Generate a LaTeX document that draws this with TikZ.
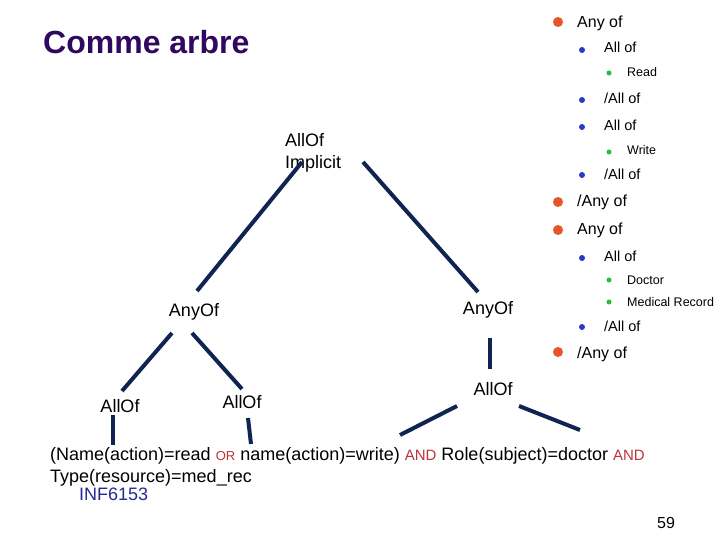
\documentclass[tikz,border=0pt]{standalone}
\usepackage{fontspec}
\setmainfont{Liberation Sans}
\definecolor{navy}{RGB}{16,36,82}
\definecolor{ttl}{RGB}{48,8,96}
\definecolor{redk}{RGB}{190,50,60}
\definecolor{bluet}{RGB}{40,40,150}
\definecolor{borange}{RGB}{232,84,42}
\definecolor{bblue}{RGB}{40,56,200}
\definecolor{bgreen}{RGB}{44,186,58}
\begin{document}
\begin{tikzpicture}[x=1pt,y=-1pt,
  lbl/.style={inner sep=0pt,font=\fontsize{18}{22}\selectfont},
  edge/.style={draw=navy,line width=4pt},
  txt/.style={inner sep=0pt,anchor=base west,font=\fontsize{18}{22}\selectfont},
  l1/.style={inner sep=0pt,anchor=base west,font=\fontsize{16}{19}\selectfont},
  l2/.style={inner sep=0pt,anchor=base west,font=\fontsize{14.5}{17}\selectfont},
  l3/.style={inner sep=0pt,anchor=base west,font=\fontsize{12.5}{15}\selectfont},
  d1/.style={circle,fill=borange,inner sep=0pt,minimum size=10pt},
  d2/.style={circle,fill=bblue,inner sep=0pt,minimum size=6pt},
  d3/.style={circle,fill=bgreen,inner sep=0pt,minimum size=5pt}]
\useasboundingbox (0,0) rectangle (720,540);
\fill[white] (0,0) rectangle (720,540);
% title
\node[inner sep=0pt,anchor=base west,text=ttl,font=\fontsize{32}{36}\selectfont\bfseries] (title) at (43,54) {Comme arbre};
% edge end points
\coordinate (e1a) at (197,291); \coordinate (e1b) at (302,162);
\coordinate (e2a) at (363,162); \coordinate (e2b) at (478,292);
\coordinate (e3a) at (172,333); \coordinate (e3b) at (122,391);
\coordinate (e4a) at (192,333); \coordinate (e4b) at (242,389);
\coordinate (e5a) at (490,338); \coordinate (e5b) at (490,369);
\coordinate (e6a) at (457,406); \coordinate (e6b) at (400,435);
\coordinate (e7a) at (519,406); \coordinate (e7b) at (580,430);
\coordinate (e8a) at (113,415); \coordinate (e8b) at (113,445);
\coordinate (e9a) at (248,418); \coordinate (e9b) at (251,444);
% nodes
\node[lbl,anchor=base west,align=left] (root) at (285,169) {AllOf\\Implicit};
\node[lbl] (anyL) at (194,312) {AnyOf};
\node[lbl] (anyR) at (488,310) {AnyOf};
\node[lbl] (allA) at (120,406) {AllOf};
\node[lbl] (allB) at (242,402) {AllOf};
\node[lbl] (allC) at (493,389) {AllOf};
% edges
\draw[edge] (e1a) -- (e1b);
\draw[edge] (e2a) -- (e2b);
\draw[edge] (e3a) -- (e3b);
\draw[edge] (e4a) -- (e4b);
\draw[edge] (e5a) -- (e5b);
\draw[edge] (e6a) -- (e6b);
\draw[edge] (e7a) -- (e7b);
\draw[edge] (e8a) -- (e8b);
\draw[edge] (e9a) -- (e9b);
% expression
\node[txt] (expr1) at (50,460) {(Name(action)=read {\color{redk}\fontsize{13}{15}\selectfont OR} name(action)=write) {\color{redk}\fontsize{15}{18}\selectfont AND} Role(subject)=doctor {\color{redk}\fontsize{15}{18}\selectfont AND}};
\node[txt] (expr2) at (50,482) {Type(resource)=med\_rec};
\node[txt,text=bluet] (course) at (79,500) {INF6153};
\node[inner sep=0pt,anchor=base west,font=\fontsize{16}{19}\selectfont] (page) at (657,528) {59};
% right list
\node[d1] (b1) at (558,22) {};  \node[l1] (t1) at (577,28) {Any of};
\node[d2] (b2) at (582,50) {};  \node[l2] (t2) at (604,53) {All of};
\node[d3] (b3) at (609,73) {};  \node[l3] (t3) at (627,77) {Read};
\node[d2] (b4) at (582,100) {}; \node[l2] (t4) at (604,104) {/All of};
\node[d2] (b5) at (582,127) {}; \node[l2] (t5) at (604,131) {All of};
\node[d3] (b6) at (609,152) {}; \node[l3] (t6) at (627,155) {Write};
\node[d2] (b7) at (582,175) {}; \node[l2] (t7) at (604,180) {/All of};
\node[d1] (b8) at (558,202) {}; \node[l1] (t8) at (577,207) {/Any of};
\node[d1] (b9) at (558,230) {}; \node[l1] (t9) at (577,235) {Any of};
\node[d2] (b10) at (582,258) {}; \node[l2] (t10) at (604,261) {All of};
\node[d3] (b11) at (609,280) {}; \node[l3] (t11) at (627,284) {Doctor};
\node[d3] (b12) at (609,302) {}; \node[l3] (t12) at (627,306) {Medical Record};
\node[d2] (b13) at (582,327) {}; \node[l2] (t13) at (604,331) {/All of};
\node[d1] (b14) at (558,352) {}; \node[l1] (t14) at (577,358) {/Any of};
\end{tikzpicture}
\end{document}
